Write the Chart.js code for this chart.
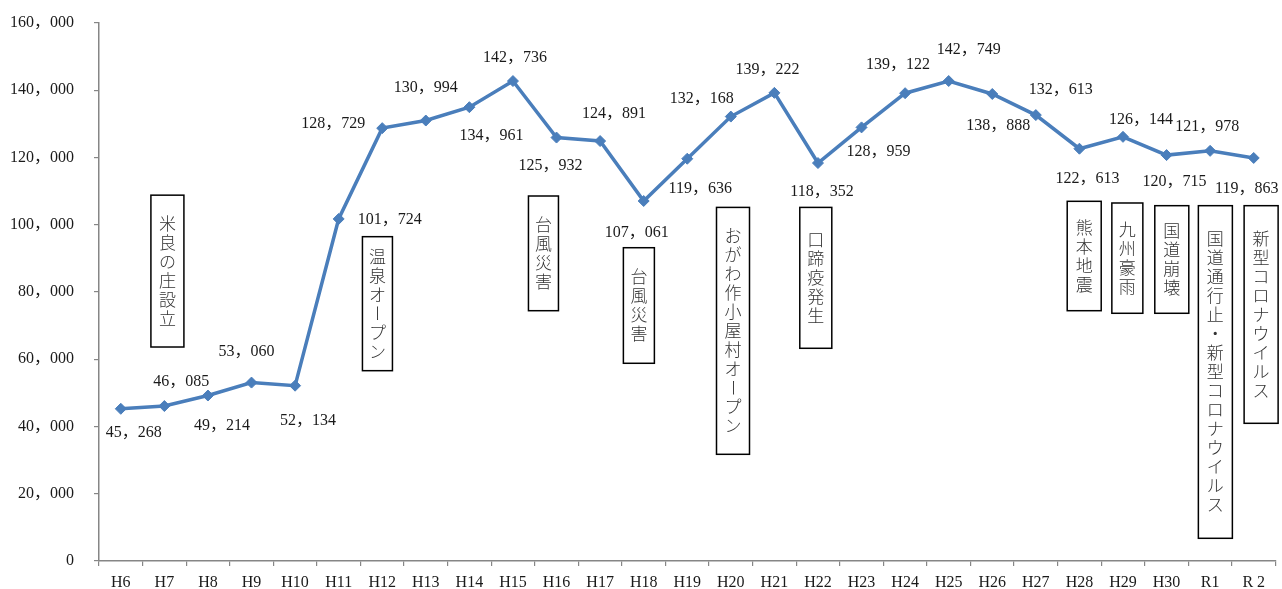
<!DOCTYPE html>
<html lang="ja">
<head>
<meta charset="utf-8">
<title>入込客数の推移</title>
<script src="https://cdn.jsdelivr.net/npm/chart.js@4/dist/chart.umd.min.js"></script>
<style>
  html, body { margin: 0; padding: 0; background: #fff; }
  canvas { display: block; }
</style>
</head>
<body>
<canvas id="visitors" width="1282" height="589"></canvas>
<script>
// 年度ごとの入込客数
const years = ['H6', 'H7', 'H8', 'H9', 'H10', 'H11', 'H12', 'H13', 'H14', 'H15', 'H16', 'H17', 'H18', 'H19',
  'H20', 'H21', 'H22', 'H23', 'H24', 'H25', 'H26', 'H27', 'H28', 'H29', 'H30', 'R1', 'R 2'];
const visitors = [45268, 46085, 49214, 53060, 52134, 101724, 128729, 130994, 134961, 142736, 125932, 124891,
  107061, 119636, 132168, 139222, 118352, 128959, 139122, 142749, 138888, 132613, 122613, 126144, 120715,
  121978, 119863];
const yTicks = [0, 20000, 40000, 60000, 80000, 100000, 120000, 140000, 160000];

// 数値ラベルの位置（点からのずれ, px）
const labelDx = [13, 17, 14, -5, 13, 51, -49, 0, 22, 2, -6, 14, -7, 13, -29, -7, 4, 17, -7, 20, 6, 25, 8, 18, 8, -3, -7];
const labelDy = [24, -24, 30, -31, 35, 1, -4, -33, 29, -23, 28, -27, 32, 30, -18, -23, 29, 24, -28, -31, 32, -25, 30, -17, 27, -24, 31];

// 出来事の吹き出し（縦書き）
const noteTexts = ['米良の庄設立', '温泉オープン', '台風災害', '台風災害', 'おがわ作小屋村オープン', '口蹄疫発生',
  '熊本地震', '九州豪雨', '国道崩壊', '国道通行止・新型コロナウイルス', '新型コロナウイルス'];
const noteAt = [1.07, 5.89, 9.70, 11.89, 14.05, 15.95, 22.11, 23.10, 24.12, 25.12, 26.17];
const noteTop = [108800, 96450, 108550, 93170, 105160, 105160, 106970, 106470, 105670, 105670, 105670];
const noteBottom = [63640, 56600, 74440, 58800, 31730, 63260, 74440, 73670, 73670, 6750, 40950];
const noteWidth = [33, 30, 30, 31, 33, 32, 34, 31, 34, 34, 34];

const LINE_BLUE = '#4a7ebb';
const AXIS_GRAY = '#868686';
const numFont = '16px "Liberation Serif", "Noto Sans CJK JP", serif';
const jpFont = '300 17px "Noto Sans CJK JP", sans-serif';
const CHAR_STEP = 19;

const fmt = v => v.toLocaleString('en-US').replace(/,/g, '，');

const valueLabels = {
  id: 'valueLabels',
  afterDatasetsDraw(chart) {
    const { ctx } = chart;
    const pts = chart.getDatasetMeta(0).data;
    ctx.save();
    ctx.font = numFont;
    ctx.fillStyle = '#1a1a1a';
    ctx.textAlign = 'center';
    ctx.textBaseline = 'middle';
    pts.forEach((p, i) => {
      ctx.fillText(fmt(visitors[i]), p.x + labelDx[i], p.y + labelDy[i]);
    });
    ctx.restore();
  }
};

const eventNotes = {
  id: 'eventNotes',
  afterDatasetsDraw(chart) {
    const { ctx, scales: { x, y } } = chart;
    const step = x.getPixelForValue(1) - x.getPixelForValue(0);
    ctx.save();
    noteTexts.forEach((text, i) => {
      const cx = x.getPixelForValue(0) + noteAt[i] * step;
      const top = y.getPixelForValue(noteTop[i]);
      const bottom = y.getPixelForValue(noteBottom[i]);
      const w = noteWidth[i];
      ctx.fillStyle = '#fff';
      ctx.fillRect(cx - w / 2, top, w, bottom - top);
      ctx.strokeStyle = '#000';
      ctx.lineWidth = 1.5;
      ctx.strokeRect(cx - w / 2, top, w, bottom - top);

      // 文字列は枠の中で上下中央に並べる
      const chars = [...text];
      const start = (top + bottom) / 2 - (chars.length - 1) * CHAR_STEP / 2;
      ctx.font = jpFont;
      ctx.fillStyle = '#333';
      ctx.textAlign = 'center';
      ctx.textBaseline = 'middle';
      chars.forEach((ch, k) => {
        const cy = start + k * CHAR_STEP;
        if (ch === 'ー') {
          // 縦書きの長音記号は90度回す
          ctx.save();
          ctx.translate(cx, cy);
          ctx.rotate(Math.PI / 2);
          ctx.fillText(ch, 0, 0);
          ctx.restore();
        } else {
          ctx.fillText(ch, cx, cy);
        }
      });
    });
    ctx.restore();
  }
};

new Chart(document.getElementById('visitors'), {
  type: 'line',
  data: {
    labels: years,
    datasets: [{
      data: visitors,
      borderColor: LINE_BLUE,
      backgroundColor: LINE_BLUE,
      borderWidth: 3.5,
      pointStyle: 'rectRot',
      pointRadius: 5.5,
      pointBorderWidth: 1,
      tension: 0,
    }]
  },
  options: {
    responsive: false,
    animation: false,
    devicePixelRatio: 1,
    layout: { padding: { top: 23, right: 5, left: 0, bottom: 0 } },
    plugins: { legend: { display: false }, tooltip: { enabled: false } },
    scales: {
      x: {
        type: 'category',
        offset: true,
        grid: { display: true, drawOnChartArea: false, offset: true, tickLength: 5, color: AXIS_GRAY, lineWidth: 1.2 },
        border: { color: AXIS_GRAY, width: 1.5 },
        ticks: { autoSkip: false, maxRotation: 0, padding: 7, color: '#1a1a1a', font: { family: '"Liberation Serif", serif', size: 16 } },
        afterFit(scale) { scale.height = 28; }
      },
      y: {
        min: 0,
        max: 160000,
        afterBuildTicks(scale) { scale.ticks = yTicks.map(value => ({ value })); },
        grid: { display: true, drawOnChartArea: false, tickLength: 5, color: AXIS_GRAY, lineWidth: 1.2 },
        border: { color: AXIS_GRAY, width: 1.5 },
        ticks: { padding: 20, color: '#1a1a1a', font: { family: '"Liberation Serif", "Noto Sans CJK JP", serif', size: 16 }, callback: v => fmt(v) },
        afterFit(scale) {
          scale.width = 99;
          // ラベル余白で描画領域が縮まないようにする
          scale.paddingTop = 0;
          scale.paddingBottom = 0;
        }
      }
    }
  },
  plugins: [valueLabels, eventNotes]
});
</script>
</body>
</html>
